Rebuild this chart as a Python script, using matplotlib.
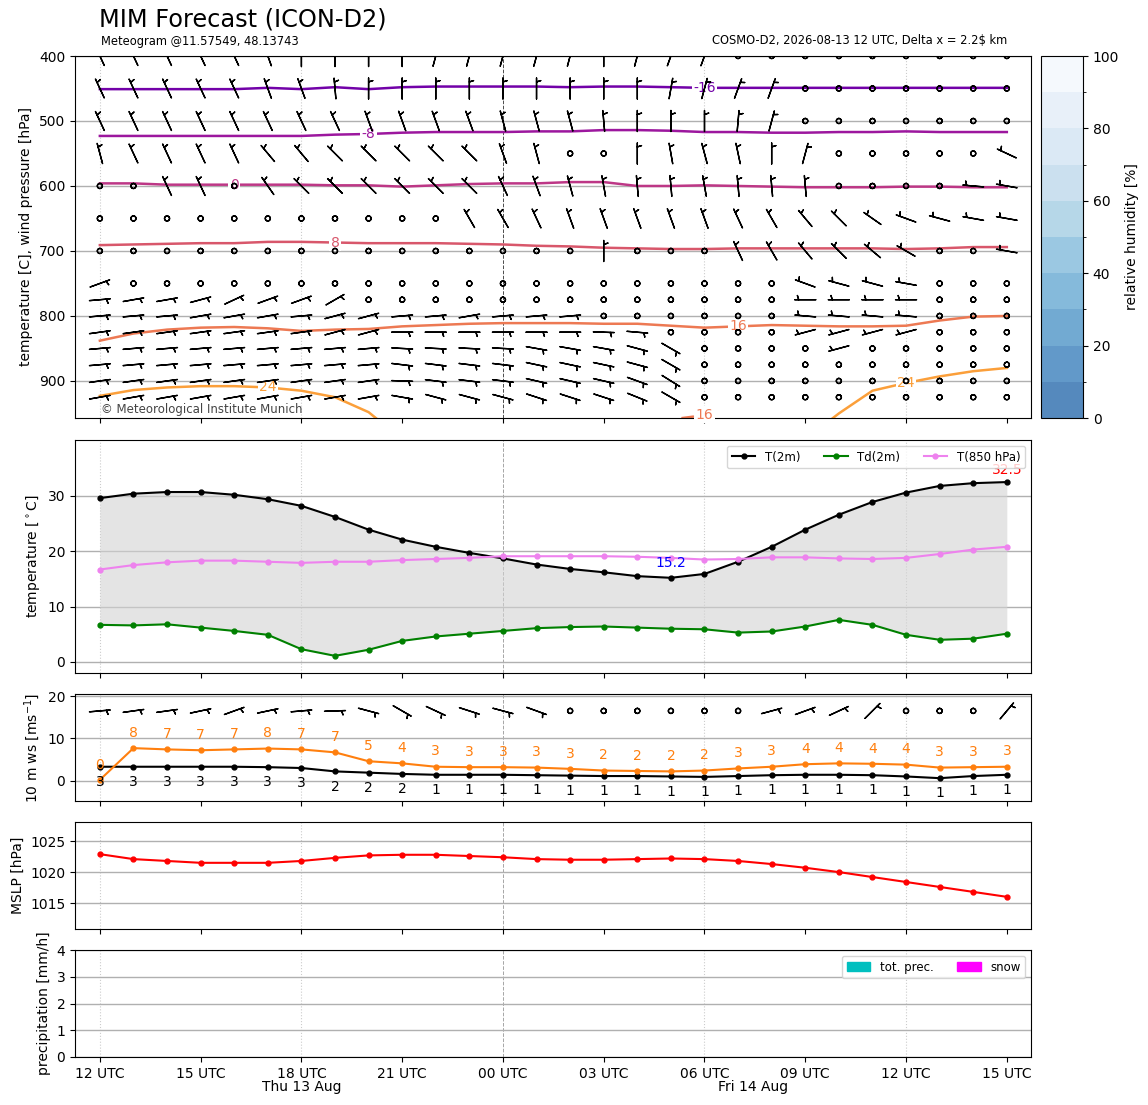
import numpy as np
import matplotlib.pyplot as plt
from matplotlib.colors import ListedColormap, BoundaryNorm
from matplotlib.cm import ScalarMappable
from matplotlib.patches import Patch

# hours since 2026-08-13 12 UTC
hours = np.arange(28)
tick_hours = np.arange(0, 28, 3)
tick_labels = ['12 UTC', '15 UTC', '18 UTC', '21 UTC', '00 UTC',
               '03 UTC', '06 UTC', '09 UTC', '12 UTC', '15 UTC']
day_labels = [(6.0, 'Thu 13 Aug'), (19.46, 'Fri 14 Aug')]

t2m = [29.6, 30.4, 30.7, 30.7, 30.2, 29.4, 28.2, 26.2, 23.9, 22.1, 20.8, 19.7, 18.7, 17.6,
       16.8, 16.2, 15.5, 15.2, 15.9, 18.1, 20.8, 23.9, 26.6, 28.9, 30.6, 31.8, 32.3, 32.5]
td2m = [6.7, 6.6, 6.8, 6.2, 5.6, 4.9, 2.3, 1.1, 2.2, 3.8, 4.6, 5.1, 5.6, 6.1,
        6.3, 6.4, 6.2, 6.0, 5.9, 5.3, 5.5, 6.4, 7.6, 6.7, 4.9, 4.0, 4.2, 5.1]
t850 = [16.7, 17.5, 18.0, 18.3, 18.3, 18.1, 17.9, 18.1, 18.1, 18.4, 18.6, 18.8, 19.1, 19.1,
        19.1, 19.1, 19.0, 18.8, 18.5, 18.6, 18.9, 18.9, 18.7, 18.6, 18.8, 19.5, 20.3, 20.8]

ws10 = [3.3, 3.3, 3.3, 3.3, 3.3, 3.2, 3.0, 2.2, 1.9, 1.6, 1.4, 1.4, 1.4, 1.3,
        1.2, 1.1, 1.1, 1.0, 0.9, 1.1, 1.3, 1.4, 1.4, 1.3, 1.0, 0.6, 1.1, 1.4]
gust10 = [0.2, 7.7, 7.4, 7.2, 7.4, 7.6, 7.4, 6.7, 4.6, 4.1, 3.3, 3.2, 3.2, 3.1,
          2.8, 2.4, 2.3, 2.2, 2.4, 2.9, 3.3, 3.9, 4.1, 4.0, 3.8, 3.1, 3.2, 3.3]

mslp = [1022.9, 1022.1, 1021.8, 1021.5, 1021.5, 1021.5, 1021.8, 1022.3, 1022.7, 1022.8,
        1022.8, 1022.6, 1022.4, 1022.1, 1022.0, 1022.0, 1022.1, 1022.2, 1022.1, 1021.8,
        1021.3, 1020.7, 1020.0, 1019.2, 1018.4, 1017.6, 1016.8, 1016.0]

prec_tot = [0.0] * 28
prec_snow = [0.0] * 28

# wind directions (deg, from) per pressure level, None = calm
levels = [400, 450, 500, 550, 600, 650, 700, 750, 775, 800, 825, 850, 875, 900, 925]
N = None
wind_dir = [
    [335, 335, 335, 335, 335, 340, 0, 0, 0, 0, 15, 15, 15, 15, 15, 0, 15, 20, 20, N, N, N, N, N, N, N, N, N],
    [335, 335, 335, 335, 335, 340, 340, 355, 0, 0, 0, 0, 0, 0, 0, 0, 0, 10, 15, 20, 20, N, N, N, N, N, N, N],
    [335, 335, 335, 335, 335, 335, 335, 335, 340, 340, 340, 340, 345, 345, 345, 355, 0, 0, 0, 5, 15, N, N, N, N, N, N, N],
    [345, 335, 335, 335, 335, 320, 320, 315, 315, 315, 315, 315, 340, 345, N, N, 0, 350, 345, 348, 0, 15, N, N, N, N, N, 295],
    [N, N, 335, 335, N, 325, 315, 315, 315, 315, 315, 315, 335, 340, 345, 350, 355, 355, 350, 355, 355, 355, N, N, N, N, 275, 280],
    [N, N, N, N, N, N, N, N, N, N, N, 330, 330, 335, 340, 340, 340, 340, 340, 335, 330, 320, 315, 305, 290, 285, 280, 280],
    [N, N, N, N, N, N, N, N, N, N, N, N, N, N, N, 0, N, N, N, 335, 330, 320, 315, 310, 300, N, N, 280],
    [70, N, N, N, N, N, N, N, N, N, N, N, N, N, N, N, N, N, N, N, N, 290, 285, 285, 280, N, N, N],
    [85, 80, 80, 75, 65, 70, 70, 60, N, N, N, N, N, N, N, N, N, N, N, N, N, 270, 270, 270, 270, N, N, N],
    [85, 85, 85, 80, 80, 80, 85, 75, 75, 85, 85, 80, 85, 85, 85, N, N, N, N, N, N, 275, 275, 275, 275, N, N, N],
    [82, 82, 82, 82, 82, 82, 82, 75, 75, 90, 90, 90, 90, 90, 90, 92, 95, N, N, N, N, 255, 255, 255, 255, N, N, N],
    [85, 85, 85, 85, 85, 85, 85, 85, 85, 93, 93, 93, 93, 100, 100, 100, 105, 120, N, N, N, N, 255, N, N, N, N, N],
    [85, 85, 85, 85, 85, 85, 85, 85, 85, 97, 97, 97, 97, 102, 102, 102, 105, 120, N, N, N, N, N, N, N, N, N, N],
    [82, 82, 82, 82, 82, 82, 82, 82, 82, 92, 97, 97, 97, 103, 103, 103, 110, 122, N, N, N, N, N, N, N, N, N, N],
    [80, 80, 80, 80, 80, 80, 80, 80, 80, 100, 105, 105, 105, 108, 108, 108, 112, 120, N, N, N, N, N, N, N, N, N, N],
]
wind10_dir = [85, 82, 82, 78, 70, 78, 85, 88, 105, 120, 115, 108, 105, 110,
              N, N, N, N, N, N, 75, 70, 65, 45, N, N, N, 40]
barb_speed = 5

# isotherms: pressure [hPa] of each contour against time
iso_m16 = [451, 451, 451, 451, 451, 449, 451, 448, 451, 448, 447, 447, 447, 447,
           448, 447, 447, 448, 449, 449, 449, 449, 449, 449, 449, 449, 449, 449]
iso_m8 = [523, 523, 523, 523, 523, 523, 523, 521, 520, 518, 517, 517, 517, 516,
          516, 514, 514, 515, 517, 517, 518, 518, 517, 517, 516, 517, 517, 517]
iso_0 = [596, 596, 598, 598, 598, 598, 598, 599, 599, 601, 599, 597, 596, 596,
         594, 594, 600, 600, 599, 600, 601, 602, 602, 602, 601, 601, 602, 602]
iso_8 = [691, 690, 689, 688, 688, 686, 686, 687, 688, 688, 688, 689, 690, 692,
         693, 695, 696, 697, 697, 696, 696, 696, 696, 696, 697, 696, 694, 694]
iso_16 = [838, 827, 821, 818, 817, 819, 823, 821, 820, 816, 814, 812, 811, 811,
          811, 812, 812, 815, 818, 816, 814, 815, 816, 816, 815, 807, 801, 800]
iso_16b_t = [17.35, 17.65]
iso_16b = [957, 955]
iso_24a_t = hours[:10]
iso_24a = [923, 914, 910, 908, 908, 910, 915, 925, 948, 990]
iso_24b_t = hours[21:]
iso_24b = [990, 950, 915, 903, 893, 885, 880]

iso_values = [-16, -8, 0, 8, 16, 24]
iso_label_pos = [(-16, 18, 449), (-8, 8, 520), (0, 4, 598), (8, 7, 687),
                 (16, 19, 816), (16, 18, 952), (24, 5, 910), (24, 24, 903)]


def to_uv(dirs):
    d = np.array([np.nan if x is None else x for x in dirs], dtype=float)
    spd = np.where(np.isnan(d), 0.0, barb_speed)
    rad = np.radians(np.nan_to_num(d))
    return -spd * np.sin(rad), -spd * np.cos(rad)


fig = plt.figure(figsize=(11.48, 11.05), dpi=100)
W, H = 1148, 1105


def box(x0, y0, x1, y1):
    return [x0 / W, 1 - y1 / H, (x1 - x0) / W, (y1 - y0) / H]


ax1 = fig.add_axes(box(75, 56, 1031, 418))
ax2 = fig.add_axes(box(75, 440, 1031, 673), sharex=ax1)
ax3 = fig.add_axes(box(75, 694, 1031, 801), sharex=ax1)
ax4 = fig.add_axes(box(75, 822, 1031, 929), sharex=ax1)
ax5 = fig.add_axes(box(75, 950, 1031, 1057), sharex=ax1)
cax = fig.add_axes(box(1041, 56, 1083, 418))

fig.text(99 / W, 1 - 20 / H, 'MIM Forecast (ICON-D2)', fontsize=17.3, va='center')
fig.text(101 / W, 1 - 41 / H, 'Meteogram @11.57549, 48.13743', fontsize=8.3, va='center')
fig.text(1007 / W, 1 - 41 / H, 'COSMO-D2, 2026-08-13 12 UTC, Delta x = 2.2$ km',
         fontsize=8.3, va='center', ha='right')

for ax in (ax1, ax2, ax3, ax4, ax5):
    ax.yaxis.grid(True, color='#b0b0b0', lw=1)
    for h in (0, 6, 18, 24):
        ax.axvline(h, color='#cccccc', ls=':', lw=0.8, zorder=0.5)
    ax.axvline(12, color='k' if ax is ax1 else 'gray', ls='--', lw=0.7,
               alpha=0.7, zorder=0.5)
    ax.set_axisbelow(True)
    ax.tick_params(labelbottom=False)

# --- upper air panel
cmap_t = plt.get_cmap('plasma')
iso_col = {v: cmap_t((v + 32) / 72) for v in iso_values}
for v, x, p in [(-16, hours, iso_m16), (-8, hours, iso_m8), (0, hours, iso_0),
                (8, hours, iso_8), (16, hours, iso_16), (16, iso_16b_t, iso_16b),
                (24, iso_24a_t, iso_24a), (24, iso_24b_t, iso_24b)]:
    ax1.plot(x, p, color=iso_col[v], lw=1.8, zorder=2)
for v, t, p in iso_label_pos:
    ax1.text(t, p, str(v), color=iso_col[v], fontsize=10, ha='center', va='center',
             bbox=dict(fc='white', ec='none', pad=1.0), zorder=3)

barb_sizes = dict(emptybarb=0.12)
for lev, dirs in zip(levels, wind_dir):
    u, v = to_uv(dirs)
    ax1.barbs(hours, np.full(28, lev), u, v, length=5.5, pivot='middle',
              lw=1, sizes=barb_sizes, zorder=4)
ax1.set_ylim(957, 400)
ax1.set_yticks([400, 500, 600, 700, 800, 900])
ax1.set_ylabel('temperature [C], wind pressure [hPa]')
ax1.text(26 / 956, 8 / 362, '\u00a9 Meteorological Institute Munich', transform=ax1.transAxes,
         fontsize=8.5, color='#444444', va='center', zorder=5)

rh_colors = plt.get_cmap('Blues')(np.linspace(0.85, 0.03, 10))
rh_colors[:, 3] = 0.7
sm = ScalarMappable(norm=BoundaryNorm(np.arange(0, 101, 10), 10),
                    cmap=ListedColormap(rh_colors))
cb = fig.colorbar(sm, cax=cax, ticks=np.arange(0, 101, 20))
cb.set_label('relative humidity [%]')

# --- 2 m temperature panel
ax2.fill_between(hours, td2m, t2m, color='lightgray', alpha=0.6, lw=0, zorder=1)
ax2.plot(hours, t2m, 'k.-', ms=7, lw=1.5, label='T(2m)')
ax2.plot(hours, td2m, '.-', color='green', ms=7, lw=1.5, label='Td(2m)')
ax2.plot(hours, t850, '.-', color='violet', ms=7, lw=1.5, label='T(850 hPa)')
imin = int(np.argmin(t2m))
imax = int(np.argmax(t2m))
ax2.annotate('%.1f' % t2m[imin], (hours[imin], t2m[imin]), xytext=(0, 11),
             textcoords='offset points', color='blue', ha='center', va='center', fontsize=10)
ax2.annotate('%.1f' % t2m[imax], (hours[imax], t2m[imax]), xytext=(0, 9),
             textcoords='offset points', color='red', ha='center', va='center', fontsize=10)
ax2.set_ylim(-2, 40.1)
ax2.set_yticks([0, 10, 20, 30])
ax2.set_ylabel(r'temperature [$^\circ$C]')
ax2.legend(loc='upper right', ncol=3, fontsize=8.5)

# --- 10 m wind panel
ax3.plot(hours, ws10, 'k.-', ms=7, lw=1.5)
ax3.plot(hours, gust10, '.-', color='tab:orange', ms=7, lw=1.5)
for h, w, g in zip(hours, ws10, gust10):
    ax3.annotate('%d' % round(w), (h, w), xytext=(0, -11), textcoords='offset points',
                 ha='center', va='center', fontsize=10, color='k')
    ax3.annotate('%d' % round(g), (h, g), xytext=(0, 11), textcoords='offset points',
                 ha='center', va='center', fontsize=10, color='tab:orange')
u10, v10 = to_uv(wind10_dir)
ax3.barbs(hours, np.full(28, 16.5), u10, v10, length=5.5, pivot='middle', lw=1,
          sizes=barb_sizes)
ax3.set_ylim(-4.8, 20.5)
ax3.set_yticks([0, 10, 20])
ax3.set_ylabel(r'10 m ws [ms$^{-1}$]')

# --- MSLP panel
ax4.plot(hours, mslp, '.-', color='red', ms=7, lw=1.5)
ax4.set_ylim(1010.8, 1028.1)
ax4.set_yticks([1015, 1020, 1025])
ax4.set_ylabel('MSLP [hPa]')

# --- precipitation panel
ax5.bar(hours, prec_tot, color='c', width=0.8)
ax5.bar(hours, prec_snow, color='magenta', width=0.8)
ax5.set_ylim(0, 4)
ax5.set_yticks([0, 1, 2, 3, 4])
ax5.set_ylabel('precipitation [mm/h]')
ax5.legend(handles=[Patch(color='c', label='tot. prec.'), Patch(color='magenta', label='snow')],
           loc='upper right', ncol=2, fontsize=8.5)

ax1.set_xlim(-0.74, 27.72)
ax1.set_xticks(tick_hours)
ax5.set_xticklabels(tick_labels)
ax5.tick_params(labelbottom=True)
for t, lab in day_labels:
    ax5.text(t, -0.285, lab, transform=ax5.get_xaxis_transform(), ha='center',
             va='center', fontsize=10)

fig.savefig('out.png', dpi=100)
